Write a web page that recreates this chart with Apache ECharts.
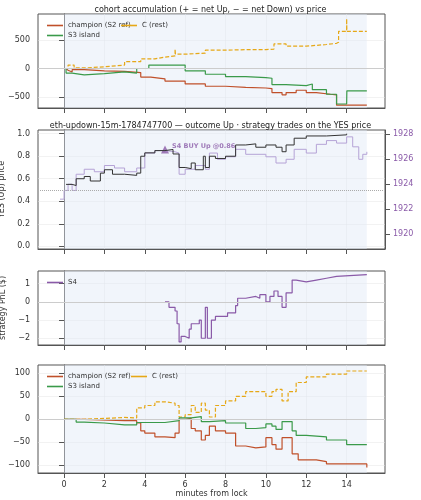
<!DOCTYPE html>
<html>
<head>
<meta charset="utf-8">
<script src="https://cdn.jsdelivr.net/npm/echarts@6/dist/echarts.min.js"></script>
<style>html,body{margin:0;background:#fff}#chart{width:421px;height:500px}</style>
</head>
<body>
<div id="chart"></div>
<script>
// panel 1: accumulated net YES shares
const accChampion = [[0,0],[0.1,-30],[0.2,-60],[0.4,-20],[1,-40],[2,-50],[3,-70],[3.8,-150],[4.3,-180],[5,-220],[6,-270],[7,-310],[8,-330],[9,-340],[10,-350],[10.3,-420],[10.8,-460],[11,-420],[11.5,-380],[12,-420],[12.5,-450],[13.2,-460],[13.5,-640],[15,-650]];
const accS3 = [[0,0],[0.1,-80],[0.4,-110],[1,-90],[2,-60],[3,-80],[3.6,0],[4.2,60],[5,60],[6,-40],[7,-100],[8,-140],[9,-160],[10,-170],[10.3,-280],[11,-300],[12,-270],[12.3,-370],[13,-450],[13.5,-620],[14,-620],[14.01,-390],[15,-390]];
const accRest = [[0,0],[0.2,60],[0.5,10],[1,30],[2,60],[3,120],[3.8,170],[4.5,200],[5,220],[5.5,240],[5.5,340],[5.52,250],[6,270],[7,320],[8,330],[9,330],[10,340],[10.4,430],[11,390],[12,420],[13,440],[13.5,460],[13.6,650],[14,650],[14,870],[14.01,650],[15,650]];

// panel 2: YES price and ETH/USD
const yesPrice = [[0.1,0.55],[0.4,0.54],[0.6,0.6],[1,0.62],[1.3,0.58],[1.8,0.65],[2,0.68],[2.4,0.64],[3,0.63],[3.6,0.65],[3.8,0.8],[4,0.83],[4.5,0.85],[5,0.86],[5.4,0.82],[5.7,0.7],[6,0.69],[6.3,0.74],[6.5,0.68],[6.9,0.8],[7,0.7],[7.2,0.8],[7.5,0.78],[8,0.8],[8.5,0.9],[9,0.91],[9.5,0.88],[10,0.9],[10.5,0.88],[10.8,0.84],[11,0.9],[11.4,0.96],[12,0.98],[13,0.99],[14,1.0]];
const ethUsd = [[-0.2,1922.8],[0,1923.5],[0.2,1924.0],[0.4,1923.5],[0.6,1924.8],[1,1925.2],[1.5,1925.0],[2,1925.5],[2.5,1925.3],[3,1925.0],[3.6,1925.3],[4,1926.5],[4.5,1926.7],[5,1926.6],[5.5,1926.5],[5.7,1924.8],[6,1925.2],[6.5,1925.5],[7,1925.2],[7.2,1926.5],[7.6,1926.0],[8,1926.2],[8.5,1926.8],[9,1926.4],[10,1926.2],[10.5,1925.7],[11,1926.0],[11.4,1926.8],[12,1926.5],[12.5,1927.2],[13,1927.5],[13.5,1927.3],[14,1927.8],[14.3,1927.0],[14.6,1926.0],[14.8,1926.4],[15,1926.6]];
const buyMarker = [[5,0.86]];

// panel 3: strategy PnL
const pnlS4 = [[5,0],[5.2,-0.3],[5.5,-0.5],[5.6,-1.2],[5.7,-2.2],[5.8,-1.9],[6,-2.0],[6.2,-1.5],[6.3,-1.2],[6.7,-1.0],[6.8,-2.0],[7,-0.3],[7.1,-2.0],[7.3,-1.0],[7.5,-0.8],[8,-0.8],[8.1,-0.6],[8.5,-0.2],[8.6,0.2],[9,0.3],[9.5,0.2],[9.7,0.4],[10,0.0],[10.2,0.3],[10.4,0.6],[10.6,0.3],[10.8,-0.3],[11,0.5],[11.3,1.2],[11.5,1.1],[12,1.2],[12.5,1.3],[13,1.4],[13.5,1.5],[15,1.5]];

// panel 4: cohort moving PnL
const mpChampion = [[0,0],[1,-3],[3,-3],[3.6,-8],[3.8,-25],[4,-30],[4.5,-38],[5,-40],[5.5,-30],[5.7,0],[6,2],[6.3,-20],[6.5,-25],[6.8,-45],[7,-35],[7.2,-15],[7.5,-25],[8,-30],[8.5,-58],[9,-62],[9.5,-60],[10,-40],[10.3,-55],[10.5,-65],[10.8,-40],[11.1,-40],[11.3,-75],[11.6,-88],[12,-88],[12.5,-92],[13,-97],[15,-97],[15,-105]];
const mpS3 = [[0,0],[0.6,-6],[1,-8],[2,-12],[3,-12],[3.6,-7],[5,-3],[5.7,3],[6.3,6],[6.8,-5],[7.2,-3],[8,-8],[9,-20],[9.5,-18],[10,-10],[10.3,-15],[10.5,-22],[10.8,-5],[11.1,-5],[11.3,-25],[11.5,-35],[12,-38],[13,-45],[14,-55],[15,-56]];
const mpRest = [[0,0],[1,2],[2,4],[3,3],[3.6,25],[4,30],[4.5,38],[5,35],[5.5,30],[5.7,5],[6,10],[6.3,30],[6.5,15],[6.8,35],[7,20],[7.2,5],[7.5,30],[8,40],[8.5,50],[9,60],[9.5,60],[10,50],[10.3,60],[10.5,65],[10.8,40],[11.1,60],[11.5,80],[12,92],[13,98],[14,105],[15,106]];

const xTicks = [0, 2, 4, 6, 8, 10, 12, 14];
const yTicks = [[-500, 0, 500], [0, 0.2, 0.4, 0.6, 0.8, 1.0], [-2, -1, 0, 1], [-100, -50, 0, 50, 100]];
const ethTicks = [1920, 1922, 1924, 1926, 1928];

const RED = '#c0502a', GREEN = '#3a9a4a', ORANGE = '#e6a817', PURPLE = '#8a5aa8', LILAC = '#b5a3d6';
const FONT = 'DejaVu Sans';

const grids = [
    {left: 38, right: 36, top: 14, height: 94},
    {left: 38, right: 36, top: 130, height: 119},
    {left: 38, right: 36, top: 271, height: 74},
    {left: 38, right: 36, top: 365, height: 108},
];
const yRanges = [[-690, 953], [-0.024, 1.033], [-2.37, 1.7], [-116.7, 118]];
const yNames = ['acc. net YES (shares)', 'YES (Up) price', 'strategy PnL ($)', 'cohort moving PnL ($)'];

const xAxes = grids.map((g, i) => ({
    type: 'value', gridIndex: i, min: -1.29, max: 15.9,
    axisLine: {onZero: false, lineStyle: {color: '#555'}},
    axisTick: {show: true, customValues: xTicks, lineStyle: {color: '#555'}},
    axisLabel: {show: i === 3, customValues: xTicks, color: '#333', fontSize: 8, fontFamily: FONT},
    splitLine: {show: true, lineStyle: {color: '#e4e4e4', width: 0.5}},
    name: i === 3 ? 'minutes from lock' : '', nameLocation: 'middle', nameGap: 14,
    nameTextStyle: {fontSize: 8, color: '#333', fontFamily: FONT},
}));

const yAxes = grids.map((g, i) => ({
    type: 'value', gridIndex: i, min: yRanges[i][0], max: yRanges[i][1],
    axisLine: {show: true, lineStyle: {color: '#555'}},
    axisTick: {show: true, customValues: yTicks[i]},
    axisLabel: {color: '#333', fontSize: 8, fontFamily: FONT, customValues: yTicks[i],
        formatter: v => i === 1 ? v.toFixed(1) : String(Math.round(v)).replace('-', '−')},
    splitLine: {show: true, lineStyle: {color: '#e4e4e4', width: 0.5}},
    name: yNames[i], nameLocation: 'middle', nameRotate: 90, nameGap: i === 1 ? 22 : 26,
    nameTextStyle: {fontSize: 8, color: '#333', fontFamily: FONT},
}));

yAxes.push({
    type: 'value', gridIndex: 1, position: 'right', min: 1918.8, max: 1928.35,
    axisLine: {show: true, lineStyle: {color: '#555'}},
    axisTick: {show: true, customValues: ethTicks},
    axisLabel: {color: PURPLE, fontSize: 8, fontFamily: FONT, customValues: ethTicks, formatter: v => String(v)},
    splitLine: {show: false},
    name: 'ETH/USD (strike dotted = YES 0.5)', nameLocation: 'middle', nameRotate: -90, nameGap: 26,
    nameTextStyle: {fontSize: 7, color: LILAC, fontFamily: FONT},
});

function line(name, data, xi, yi, color, extra = {}) {
    return Object.assign({
        name, type: 'line', data, xAxisIndex: xi, yAxisIndex: yi, step: 'end',
        showSymbol: false, symbol: 'none', animation: false,
        lineStyle: {color, width: 1.2}, itemStyle: {color},
    }, extra);
}

function shade(xi, yi, refY, refStyle) {
    return {
        type: 'line', data: [], xAxisIndex: xi, yAxisIndex: yi, silent: true,
        markArea: {silent: true, itemStyle: {color: 'rgba(225,232,247,0.45)'}, data: [[{xAxis: 0}, {xAxis: 15}]]},
        markLine: {silent: true, symbol: 'none', label: {show: false}, lineStyle: refStyle, data: [{yAxis: refY}]},
    };
}

const zeroStyle = {color: '#cccccc', type: 'solid', width: 1};
const dashed = {lineStyle: {color: ORANGE, width: 1.2, type: [4, 2]}};

const series = [
    shade(0, 0, 0, zeroStyle), shade(2, 2, 0, zeroStyle), shade(3, 3, 0, zeroStyle),
    shade(1, 1, 0.5, {color: '#aaaaaa', type: 'dotted', width: 1}),
    line('champion (S2 ref)', accChampion, 0, 0, RED),
    line('C (rest)', accRest, 0, 0, ORANGE, dashed),
    line('S3 island', accS3, 0, 0, GREEN),
    line('ETH', ethUsd, 1, 4, LILAC, {lineStyle: {color: LILAC, width: 1}}),
    line('YES', yesPrice, 1, 1, '#333333', {lineStyle: {color: '#333', width: 1}}),
    {type: 'scatter', data: buyMarker, xAxisIndex: 1, yAxisIndex: 1, symbol: 'triangle', symbolSize: 8,
        itemStyle: {color: PURPLE}, animation: false,
        label: {show: true, position: 'right', formatter: 'S4 BUY Up @0.86', color: PURPLE,
            fontSize: 6.5, fontWeight: 'bold', fontFamily: FONT, offset: [-2, -3]}},
    line('S4', pnlS4, 2, 2, PURPLE),
    line('champion (S2 ref) ', mpChampion, 3, 3, RED),
    line('C (rest) ', mpRest, 3, 3, ORANGE, dashed),
    line('S3 island ', mpS3, 3, 3, GREEN),
];

const legendBase = {
    orient: 'vertical', itemWidth: 16, itemHeight: 6, itemGap: 3,
    textStyle: {fontSize: 7, color: '#333', fontFamily: FONT},
    icon: 'path://M0,0 L10,0 L10,1 L0,1 Z',
};
const legends = [
    Object.assign({}, legendBase, {left: 42, top: 17, data: ['champion (S2 ref)', 'S3 island']}),
    Object.assign({}, legendBase, {left: 116, top: 17, data: ['C (rest)']}),
    Object.assign({}, legendBase, {left: 42, top: 274, data: ['S4']}),
    Object.assign({}, legendBase, {left: 42, top: 368, data: ['champion (S2 ref) ', 'S3 island ']}),
    Object.assign({}, legendBase, {left: 126, top: 368, data: ['C (rest) ']}),
];

const chart = echarts.init(document.getElementById('chart'));
chart.setOption({
    backgroundColor: '#fff',
    animation: false,
    title: [
        {text: 'cohort accumulation (+ = net Up, − = net Down) vs price', left: 'center', top: 1,
            textStyle: {fontSize: 8, fontWeight: 'normal', color: '#222', fontFamily: FONT}},
        {text: 'eth-updown-15m-1784747700 — outcome Up · strategy trades on the YES price', left: 'center', top: 117,
            textStyle: {fontSize: 8, fontWeight: 'normal', color: '#222', fontFamily: FONT}},
    ],
    legend: legends,
    grid: grids.map(g => Object.assign({show: true, borderColor: '#555', borderWidth: 1, backgroundColor: '#fff',
        containLabel: false, outerBoundsMode: 'none'}, g)),
    xAxis: xAxes,
    yAxis: yAxes,
    series,
});
</script>
</body>
</html>
